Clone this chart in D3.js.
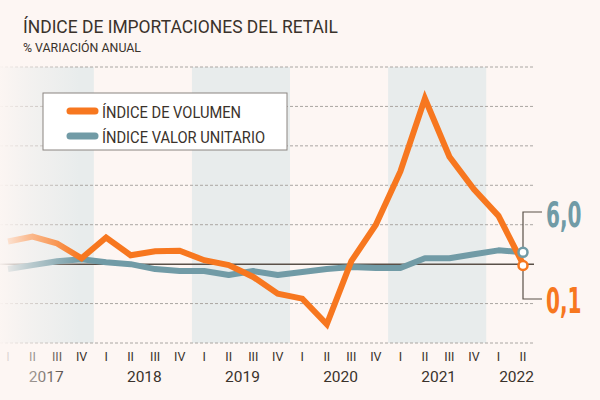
<!DOCTYPE html>
<html><head><meta charset="utf-8">
<script src="https://cdn.jsdelivr.net/npm/d3@7"></script>
<style>
html,body{margin:0;padding:0;background:#fdf6f3;}
svg{display:block;}
</style></head>
<body>
<svg id="chart" width="600" height="400"></svg>
<script>
const quarters = ["I","II","III","IV","I","II","III","IV","I","II","III","IV","I","II","III","IV","I","II","III","IV","I","II"];
const years = ["2017","2018","2019","2020","2021","2022"];
const volumen = [11.5, 14, 10.5, 3, 13.5, 4.5, 6.5, 6.8, 2, -0.5, -6.5, -15, -17.5, -30.5, 1.5, 20, 47, 84, 54.5, 38, 24.5, 0.1];
const valorUnitario = [-2.5, -0.5, 1.5, 2.5, 1, 0, -2.5, -3.5, -3.5, -5.5, -3.5, -5.5, -4, -2.5, -1.5, -2, -2, 3, 3, 5, 7, 6.0];
const yTicks = [-40, -20, 0, 20, 40, 60, 80, 100];
const seriesNames = ["ÍNDICE DE VOLUMEN", "ÍNDICE VALOR UNITARIO"];
const lastLabels = ["0,1", "6,0"];

const BG = "#fdf6f3", ORANGE = "#f7771f", BLUE = "#719ba6", TXT = "#3a322b";
const svg = d3.select("#chart");
svg.append("rect").attr("width",600).attr("height",400).attr("fill",BG);

const x = d3.scaleLinear().domain([0, quarters.length-1]).range([8, 523]);
const y = d3.scaleLinear().domain([-40, 100]).range([343, 67]);

// bands for alternate years
years.forEach((yr, k) => {
  if (k % 2 === 0 && k*4 < quarters.length) {
    const x0 = Math.max(0, x(4*k - 0.5));
    const x1 = x(Math.min(4*k + 3.5, quarters.length - 0.5));
    svg.append("rect").attr("x", x0).attr("y", y(100)).attr("width", x1 - x0)
      .attr("height", y(-40) - y(100)).attr("fill", "#e8ecec");
  }
});

// gridlines
const gridG = svg.append("g");
yTicks.filter(t => t !== 0).forEach(t => {
  gridG.append("line").attr("x1", 0).attr("x2", 535).attr("y1", y(t)).attr("y2", y(t))
    .attr("stroke", "#aaa6a2").attr("stroke-width", 1).attr("stroke-dasharray", "3,2");
});
// zero line
svg.append("line").attr("x1", 0).attr("x2", 534).attr("y1", y(0)).attr("y2", y(0))
  .attr("stroke", "#5a5048").attr("stroke-width", 1.5);

// lines
const line = d3.line().x((d,i) => x(i)).y(d => y(d));
svg.append("path").datum(valorUnitario).attr("d", line).attr("fill","none")
  .attr("stroke", BLUE).attr("stroke-width", 6).attr("stroke-linejoin","round");
svg.append("path").datum(volumen).attr("d", line).attr("fill","none")
  .attr("stroke", ORANGE).attr("stroke-width", 6).attr("stroke-linejoin","miter");

// axis labels
const axG = svg.append("g").attr("font-family","Roboto, 'Noto Sans', sans-serif").attr("fill", TXT);
quarters.forEach((q,i) => {
  axG.append("text").attr("x", x(i)).attr("y", 361).attr("text-anchor","middle")
    .attr("font-size", 12.5).text(q);
});
years.forEach((yr,k) => {
  const last = Math.min(4*k+3, quarters.length-1);
  const isLast = k === years.length-1;
  axG.append("text").attr("x", isLast ? x(last) + 11 : (x(4*k)+x(last))/2 + 1.5).attr("y", 382)
    .attr("text-anchor", isLast ? "end" : "middle").attr("font-size", 15.5).text(yr);
});

// left fade overlay
const defs = svg.append("defs");
const grad = defs.append("linearGradient").attr("id","fade").attr("x1","0").attr("x2","1").attr("y1","0").attr("y2","0");
grad.append("stop").attr("offset","0").attr("stop-color",BG).attr("stop-opacity",0.95);
grad.append("stop").attr("offset","0.35").attr("stop-color",BG).attr("stop-opacity",0.55);
grad.append("stop").attr("offset","1").attr("stop-color",BG).attr("stop-opacity",0);
svg.append("rect").attr("x",0).attr("y",60).attr("width",80).attr("height",330).attr("fill","url(#fade)");

// end markers & annotations
const n = quarters.length - 1;
const ax = x(n);
svg.append("path").attr("d", `M${ax},${y(valorUnitario[n])}V212H542`).attr("fill","none")
  .attr("stroke","#5a5048").attr("stroke-width",1.2);
svg.append("path").attr("d", `M${ax},${y(volumen[n])}V299H542`).attr("fill","none")
  .attr("stroke","#5a5048").attr("stroke-width",1.2);
svg.append("circle").attr("cx", ax).attr("cy", y(valorUnitario[n])).attr("r",4.5)
  .attr("fill","#fff").attr("stroke",BLUE).attr("stroke-width",2.5);
svg.append("circle").attr("cx", ax).attr("cy", y(volumen[n]) + 1.5).attr("r",4.5)
  .attr("fill","#fff").attr("stroke",ORANGE).attr("stroke-width",2.5);
svg.append("text").attr("transform","translate(546,227) scale(0.62,1)")
  .attr("font-family","'DejaVu Sans Condensed', 'DejaVu Sans', sans-serif")
  .attr("font-weight","bold").attr("font-size",36).attr("fill",BLUE).text(lastLabels[1]);
svg.append("text").attr("transform","translate(546,313) scale(0.62,1)")
  .attr("font-family","'DejaVu Sans Condensed', 'DejaVu Sans', sans-serif")
  .attr("font-weight","bold").attr("font-size",36).attr("fill",ORANGE).text(lastLabels[0]);

// legend
const lg = svg.append("g");
lg.append("rect").attr("x",43).attr("y",93).attr("width",244).attr("height",57)
  .attr("fill","#fff").attr("stroke","#8a8480").attr("stroke-width",1);
[[ORANGE,118,139],[BLUE,143,163]].forEach(([c,by,w],i) => {
  lg.append("line").attr("x1",70).attr("x2",95).attr("y1",by-7).attr("y2",by-7)
    .attr("stroke",c).attr("stroke-width",7).attr("stroke-linecap","round");
  lg.append("text").attr("x",102).attr("y",by).attr("font-family","Roboto, sans-serif")
    .attr("font-size",16).attr("fill",TXT).attr("textLength",w).attr("lengthAdjust","spacingAndGlyphs")
    .text(seriesNames[i]);
});

// titles
svg.append("text").attr("x",23).attr("y",33).attr("font-family","Roboto, sans-serif")
  .attr("font-size",17.5).attr("fill",TXT).attr("textLength",315).attr("lengthAdjust","spacingAndGlyphs")
  .text("ÍNDICE DE IMPORTACIONES DEL RETAIL");
svg.append("text").attr("x",23).attr("y",52).attr("font-family","Roboto, sans-serif")
  .attr("font-size",12).attr("fill",TXT).attr("textLength",118).attr("lengthAdjust","spacingAndGlyphs")
  .text("% VARIACIÓN ANUAL");
</script>
</body></html>
